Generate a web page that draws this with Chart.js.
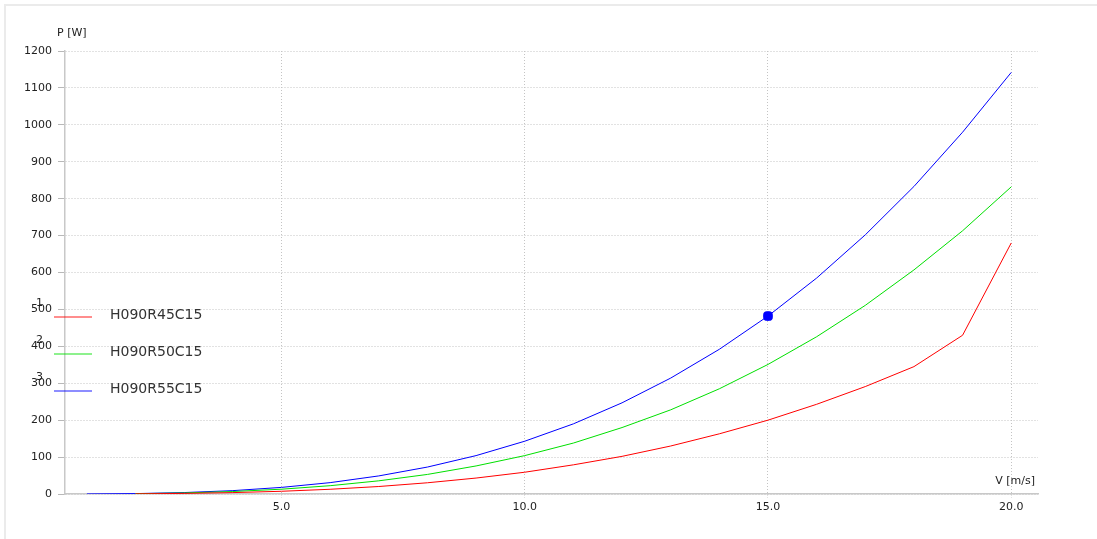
<!DOCTYPE html>
<html lang="en">
<head>
<meta charset="UTF-8">
<title>P [W] vs V [m/s]</title>
<script src="https://cdn.jsdelivr.net/npm/chart.js"></script>
<style>
  html, body { margin: 0; padding: 0; background: #fff; }
</style>
</head>
<body>
<canvas id="chart" width="1097" height="539"></canvas>
<script>
// wind speed [m/s]
const speeds = [1, 2, 3, 4, 5, 6, 7, 8, 9, 10, 11, 12, 13, 14, 15, 16, 17, 18, 19, 20];
// power [W] per rotor
const powerR45 = [null, 0.5, 1.6, 3.8, 7.4, 12.8, 20.3, 30.4, 43.2, 59, 79, 102, 130, 163, 200, 243, 291, 345, 430, 680];
const powerR50 = [null, 0.8, 2.8, 6.7, 13, 22.5, 35.7, 53, 76, 104, 138, 180, 228, 285, 351, 426, 511, 607, 713, 832];
const powerR55 = [0.14, 1.1, 3.9, 9.1, 17.9, 30.8, 49, 73, 104, 143, 190, 247, 314, 392, 482, 585, 702, 833, 980, 1142];
const seriesNames = ['H090R45C15', 'H090R50C15', 'H090R55C15'];
const seriesColors = ['#ff0000', '#00e000', '#0000ff'];
const xTicks = [5, 10, 15, 20];
// operating point marked on the R55 curve
const markIndex = 14;

const FONT = '"DejaVu Sans", Verdana, sans-serif';

function pts(vals) {
  return speeds.map((v, i) => ({ x: v, y: vals[i] }));
}

// frame, axis titles and the hand-placed legend
const decor = {
  id: 'decor',
  beforeDraw(chart) {
    const c = chart.ctx;
    c.save();
    c.fillStyle = '#fff';
    c.fillRect(0, 0, chart.width, chart.height);
    c.strokeStyle = '#ebebeb';
    c.lineWidth = 2;
    c.beginPath();
    c.moveTo(5, chart.height);
    c.lineTo(5, 5);
    c.lineTo(chart.width, 5);
    c.stroke();
    c.restore();
  },
  afterDraw(chart) {
    const c = chart.ctx;
    c.save();
    c.fillStyle = '#222';
    c.font = '11px ' + FONT;
    c.textBaseline = 'middle';
    c.textAlign = 'left';
    c.fillText('P [W]', 57, 33);
    c.textAlign = 'right';
    c.fillText('V [m/s]', 1035, 481);

    // legend
    const rows = [317, 354, 391];
    seriesNames.forEach((name, i) => {
      const y = rows[i];
      c.strokeStyle = seriesColors[i];
      c.globalAlpha = 0.6;
      c.lineWidth = 1.5;
      c.beginPath();
      c.moveTo(54, y);
      c.lineTo(92, y);
      c.stroke();
      c.globalAlpha = 1;
      c.fillStyle = '#333';
      c.font = '14px ' + FONT;
      c.textAlign = 'left';
      c.fillText(name, 110, y - 2);
      c.fillStyle = '#222';
      c.font = '11px ' + FONT;
      c.fillText(String(i + 1), 36, y - 14);
    });
    c.restore();
  }
};

const lineSet = (label, vals, color) => ({
  label: label,
  data: pts(vals),
  borderColor: color,
  borderWidth: 1,
  pointRadius: 0,
  tension: 0,
  fill: false
});

new Chart(document.getElementById('chart'), {
  type: 'line',
  data: {
    datasets: [
      {
        label: 'mark',
        type: 'scatter',
        data: [{ x: speeds[markIndex], y: powerR55[markIndex] }],
        pointStyle: 'rectRounded',
        pointRadius: 5,
        pointBackgroundColor: '#0000ff',
        pointBorderColor: '#0000ff',
        showLine: false
      },
      lineSet(seriesNames[0], powerR45, seriesColors[0]),
      lineSet(seriesNames[1], powerR50, seriesColors[1]),
      lineSet(seriesNames[2], powerR55, seriesColors[2])
    ]
  },
  options: {
    responsive: false,
    animation: false,
    devicePixelRatio: 1,
    layout: { padding: { left: 0, top: 51, right: 59, bottom: 0 } },
    plugins: {
      legend: { display: false },
      tooltip: { enabled: false }
    },
    scales: {
      x: {
        type: 'linear',
        min: 0.55,
        max: 20.55,
        afterFit(scale) { scale.height = 45; },
        afterBuildTicks(scale) { scale.ticks = xTicks.map(v => ({ value: v })); },
        border: { display: true, color: '#c8c8c8', width: 1.5, dash: [1, 2] },
        grid: {
          color: '#c4c4c4',
          lineWidth: 1,
          tickLength: 4,
          tickColor: '#c4c4c4',
          tickBorderDash: [1, 2]
        },
        ticks: {
          padding: 3,
          maxRotation: 0,
          color: '#222',
          font: { family: FONT, size: 11 },
          callback: v => Number(v).toFixed(1)
        }
      },
      y: {
        min: 0,
        max: 1200,
        afterFit(scale) { scale.width = 65; },
        border: { display: true, color: '#c8c8c8', width: 1.5, dash: [1, 2] },
        grid: {
          color: '#c4c4c4',
          lineWidth: 1,
          tickLength: 7,
          tickColor: '#b8b8b8',
          tickBorderDash: []
        },
        ticks: {
          stepSize: 100,
          padding: 6,
          color: '#222',
          font: { family: FONT, size: 11 },
          callback: v => String(v)
        }
      }
    }
  },
  plugins: [decor]
});
</script>
</body>
</html>
